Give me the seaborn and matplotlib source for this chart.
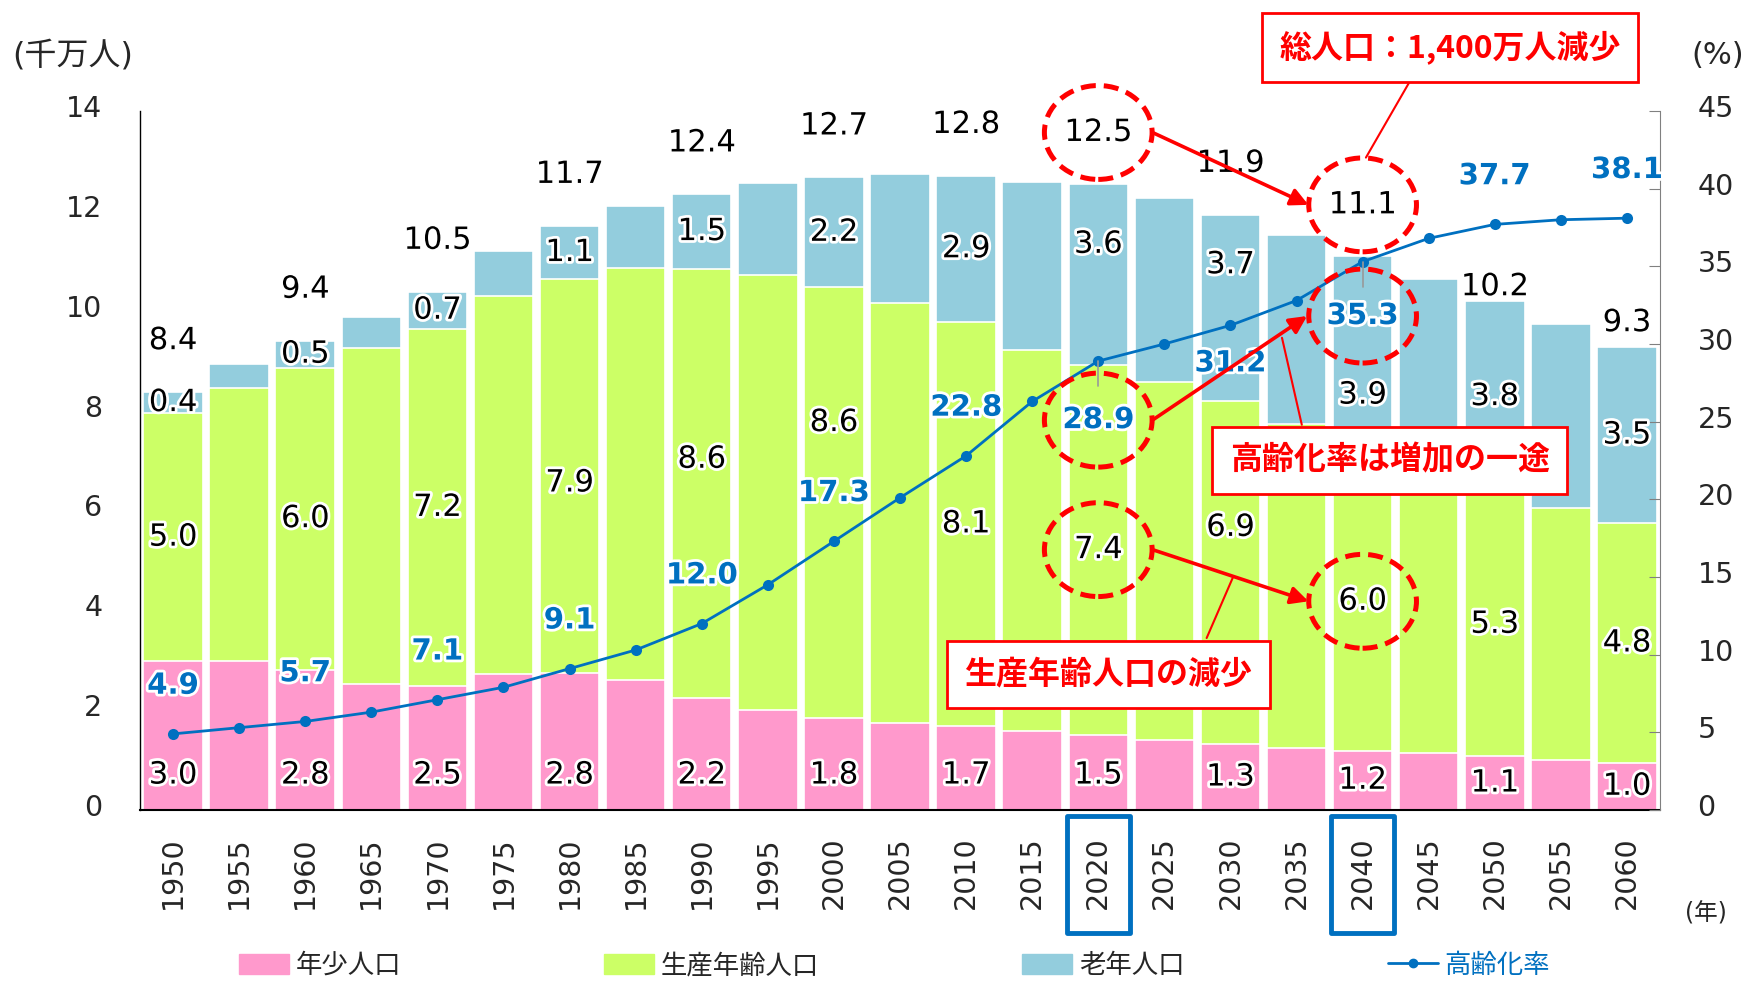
import numpy as np
import pandas as pd
import matplotlib
matplotlib.use("Agg")
import matplotlib.pyplot as plt
import matplotlib.patheffects as pe
from matplotlib.patches import Ellipse, Rectangle, Patch
from matplotlib.lines import Line2D
from matplotlib.transforms import blended_transform_factory, ScaledTranslation
import seaborn as sns

# Data (千万人 / %):
years = [1950, 1955, 1960, 1965, 1970, 1975, 1980, 1985, 1990, 1995, 2000, 2005,
         2010, 2015, 2020, 2025, 2030, 2035, 2040, 2045, 2050, 2055, 2060]
young = [2.98, 2.98, 2.81, 2.52, 2.48, 2.72, 2.75, 2.60, 2.25, 2.00, 1.85, 1.75,
         1.68, 1.59, 1.51, 1.41, 1.32, 1.25, 1.19, 1.14, 1.08, 1.01, 0.95]
working = [4.97, 5.47, 6.05, 6.74, 7.16, 7.58, 7.88, 8.25, 8.59, 8.72, 8.62, 8.41,
           8.10, 7.63, 7.41, 7.17, 6.88, 6.49, 5.98, 5.58, 5.28, 5.03, 4.79]
old = [0.42, 0.48, 0.54, 0.62, 0.74, 0.89, 1.07, 1.25, 1.49, 1.83, 2.20, 2.57,
       2.92, 3.35, 3.62, 3.68, 3.72, 3.78, 3.92, 3.92, 3.84, 3.70, 3.54]
aging = [4.9, 5.3, 5.7, 6.3, 7.1, 7.9, 9.1, 10.3, 12.0, 14.5, 17.3, 20.1,
         22.8, 26.3, 28.9, 30.0, 31.2, 32.8, 35.3, 36.8, 37.7, 38.0, 38.1]

# Labelled years and their printed values:
label_years = [1950, 1960, 1970, 1980, 1990, 2000, 2010, 2020, 2030, 2040, 2050, 2060]
total_text = ["8.4", "9.4", "10.5", "11.7", "12.4", "12.7", "12.8", "12.5", "11.9", "11.1", "10.2", "9.3"]
young_text = ["3.0", "2.8", "2.5", "2.8", "2.2", "1.8", "1.7", "1.5", "1.3", "1.2", "1.1", "1.0"]
working_text = ["5.0", "6.0", "7.2", "7.9", "8.6", "8.6", "8.1", "7.4", "6.9", "6.0", "5.3", "4.8"]
old_text = ["0.4", "0.5", "0.7", "1.1", "1.5", "2.2", "2.9", "3.6", "3.7", "3.9", "3.8", "3.5"]

# Colours:
c_young = "#FF99CC"
c_work = "#CCFF66"
c_old = "#93CDDD"
c_blue = "#0070C0"
c_red = "#FF0000"

df = pd.DataFrame({"year": [str(y) for y in years], "young": young, "working": working,
                   "old": old, "aging": aging})
df["low2"] = df["young"] + df["working"]
df["total"] = df["low2"] + df["old"]

sns.set_style("white")
plt.rcParams["font.family"] = ["DejaVu Sans", "Noto Sans CJK JP"]
jp = ["Noto Sans CJK JP", "DejaVu Sans"]

fig = plt.figure(figsize=(17.5, 9.84), dpi=100)
ax = fig.add_axes([140 / 1750, 1 - 810 / 984, 1520 / 1750, 699 / 984])

# Stacked bars (drawn as overlapping cumulative bars):
for col, c in [("total", c_old), ("low2", c_work), ("young", c_young)]:
    sns.barplot(data=df, x="year", y=col, color=c, saturation=1, width=0.9,
                edgecolor="white", linewidth=1.2, ax=ax)

ax.set_xlim(-0.5, len(years) - 0.5)
ax.set_ylim(0, 14)
ax.set_yticks(range(0, 15, 2))
ax.set_xlabel("")
ax.set_ylabel("")
ax.tick_params(axis="y", length=0, pad=27, labelsize=20.5)
ax.tick_params(axis="x", length=0, pad=19, labelsize=20.5, labelrotation=90)
for s in ["top", "right"]:
    ax.spines[s].set_visible(False)
ax.spines["left"].set_color("black")
ax.spines["left"].set_linewidth(1)
ax.spines["bottom"].set_color("black")
ax.spines["bottom"].set_linewidth(1.5)

# Aging rate line on the right axis:
ax2 = ax.twinx()
sns.lineplot(x=np.arange(len(years)), y=aging, ax=ax2, color=c_blue, linewidth=2,
             marker="o", markersize=8, markeredgewidth=0)
ax2.set_ylim(0, 45)
ax2.set_yticks(range(0, 46, 5))
ax2.tick_params(axis="y", direction="in", length=8, color="#808080", pad=27, labelsize=20.5)
for s in ["top", "left", "bottom"]:
    ax2.spines[s].set_visible(False)
ax2.spines["right"].set_color("#808080")

# tick labels sit a little above their ticks in the reference
up = ScaledTranslation(0, 5 / 100, fig.dpi_scale_trans)
for lab in ax.get_yticklabels() + ax2.get_yticklabels():
    lab.set_transform(lab.get_transform() + up)

halo = [pe.withStroke(linewidth=4, foreground="white")]

# Label offsets (layout only):
total_off = {2050: 0.28, 2060: 0.48}
old_off = {2020: 0.6, 2030: 0.86, 2040: -0.82}
work_off = {1980: -0.14, 1990: 0.48, 2000: 1.6, 2030: 0.9}
aging_off = {2020: -3.8, 2030: -2.45, 2040: -3.5}

for i, yr in enumerate(label_years):
    j = years.index(yr)
    yy, ww, oo = young[j], working[j], old[j]
    tot = yy + ww + oo
    kw = dict(ha="center", va="center", fontsize=22, color="black", path_effects=halo,
              transform=ax.transData)
    ax2.text(j, tot + total_off.get(yr, 1.03), total_text[i], **kw)
    ax2.text(j, yy + ww + oo / 2 + old_off.get(yr, 0), old_text[i], **kw)
    ax2.text(j, yy + ww / 2 + work_off.get(yr, 0), working_text[i], **kw)
    ax2.text(j, min(yy / 2, 0.7), young_text[i], **kw)
    ax2.text(j, aging[j] + aging_off.get(yr, 3.1), f"{aging[j]:.1f}", ha="center", va="center",
             fontsize=21, fontweight="bold", color=c_blue, path_effects=halo)

# small gray leader ticks under the 2020 / 2040 points
for yr in [2020, 2040]:
    j = years.index(yr)
    ax2.plot([j, j], [aging[j], aging[j] - 1.6], color="#999999", lw=1.2)

# Dashed red circles:
i20, i40 = years.index(2020), years.index(2040)
tot20 = young[i20] + working[i20] + old[i20]
tot40 = young[i40] + working[i40] + old[i40]
circ = dict(fill=False, edgecolor=c_red, lw=3.6, linestyle=(0, (3, 1.6)), zorder=5,
            clip_on=False)
centers_left = [(i20, tot20 + 1.03), (i40, tot40 + 1.03),
                (i20, young[i20] + working[i20] / 2), (i40, young[i40] + working[i40] / 2)]
for cx, cy in centers_left:
    e = Ellipse((cx, cy), 1.63, 1.88, transform=ax.transData, **circ)
    ax2.add_patch(e)
centers_pct = [(i20, aging[i20] - 3.8), (i40, aging[i40] - 3.5)]
for cx, cy in centers_pct:
    ax2.add_patch(Ellipse((cx, cy), 1.63, 6.05, **circ))

# Red arrows between circles:
arrow = dict(arrowstyle="-|>", color=c_red, lw=2.6, mutation_scale=26, shrinkA=0, shrinkB=0)
ax2.annotate("", xy=(i40 - 0.82, tot40 + 1.03), xytext=(i20 + 0.82, tot20 + 1.03),
             xycoords=ax.transData, textcoords=ax.transData, arrowprops=arrow, zorder=6)
ax2.annotate("", xy=(i40 - 0.84, aging[i40] - 3.5), xytext=(i20 + 0.82, aging[i20] - 3.8),
             arrowprops=arrow, zorder=6)
ax2.annotate("", xy=(i40 - 0.82, young[i40] + working[i40] / 2),
             xytext=(i20 + 0.82, young[i20] + working[i20] / 2),
             xycoords=ax.transData, textcoords=ax.transData, arrowprops=arrow, zorder=6)

# Red callout boxes:
box = dict(boxstyle="square,pad=0.55", fc="white", ec=c_red, lw=2)
tkw = dict(ha="center", va="center", fontsize=23, fontweight="bold", color=c_red,
           family=jp, bbox=box, zorder=8, clip_on=False)
ax2.text(19.32, 49.1, "総人口：1,400万人減少", **tkw)
ax2.plot([18.7, 18.05], [46.8, 42.0], color=c_red, lw=1.5, clip_on=False, zorder=7)
ax2.text(18.41, 22.5, "高齢化率は増加の一途", **tkw)
ax2.plot([17.08, 16.78], [24.8, 30.4], color=c_red, lw=1.5, zorder=7)
ax2.text(14.15, 8.75, "生産年齢人口の減少", **tkw)
ax2.plot([15.64, 16.04], [11.07, 15.0], color=c_red, lw=1.5, zorder=7)

# Blue frames around 2020 and 2040 tick labels:
bt = blended_transform_factory(ax.transData, ax.transAxes)
for j in [i20, i40]:
    ax.add_patch(Rectangle((j - 0.475, -0.176), 0.95, 0.168, transform=bt, fill=False,
                           ec=c_blue, lw=3.5, clip_on=False, joinstyle="round"))

# Axis unit labels:
fig.text(73 / 1750, 1 - 56 / 984, "(千万人)", ha="center", va="center", fontsize=23)
fig.text(1718 / 1750, 1 - 56 / 984, "(%)", ha="center", va="center", fontsize=22)
fig.text(1706 / 1750, 1 - 913 / 984, "(年)", ha="center", va="center", fontsize=17)

# Legend:
handles = [Patch(color=c_young), Patch(color=c_work), Patch(color=c_old),
           Line2D([], [], color=c_blue, lw=2, marker="o", markersize=6)]
labels = ["年少人口", "生産年齢人口", "老年人口", "高齢化率"]
leg = fig.legend(handles, labels, loc="center", bbox_to_anchor=(0.511, 1 - 966 / 984), ncol=4,
                 frameon=False, fontsize=19, handlelength=1.9, handleheight=0.8,
                 handletextpad=0.25, columnspacing=7.7, borderpad=0.1)
leg.get_texts()[3].set_color(c_blue)

fig.savefig("out.png", dpi=100)
